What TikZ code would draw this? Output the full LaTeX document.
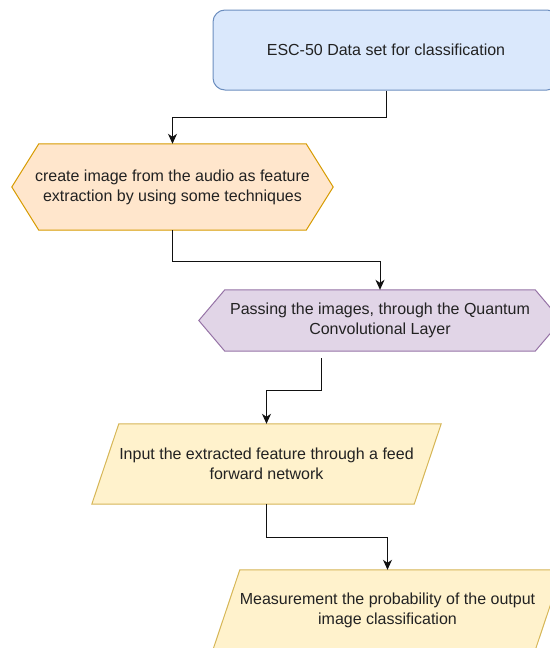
\documentclass[tikz,border=0pt]{standalone}
\usepackage{fontspec}
\setmainfont{Liberation Sans}
\usetikzlibrary{arrows.meta,calc}

\definecolor{ink}{HTML}{222222}
\definecolor{wire}{HTML}{111111}
\definecolor{blueFill}{HTML}{DAE8FC}
\definecolor{blueLine}{HTML}{6C8EBF}
\definecolor{peachFill}{HTML}{FFE6CC}
\definecolor{peachLine}{HTML}{D79B00}
\definecolor{lilacFill}{HTML}{E1D5E7}
\definecolor{lilacLine}{HTML}{9673A6}
\definecolor{sandFill}{HTML}{FFF2CC}
\definecolor{sandLine}{HTML}{D6B656}

\pgfdeclarelayer{background}
\pgfsetlayers{background,main}

\tikzset{
  txt/.style={align=center, font=\fontsize{16}{20}\selectfont, text=ink, inner sep=0pt},
  body/.style={txt, shape=rectangle, minimum width=#1},
  blockbox/.style={txt, draw=blueLine, fill=blueFill, line width=1pt,
    rounded corners=12pt, minimum width=346pt, minimum height=80pt},
  outline/.style n args={2}{draw=#2, fill=#1, line width=1pt, line join=miter},
  flow/.style={draw=wire, line width=1pt,
    -{Stealth[length=10pt, width=9pt, inset=3pt]}},
}

\begin{document}
\begin{tikzpicture}[x=1pt, y=-1pt]
\useasboundingbox (0,0) rectangle (549,648);

% process steps
\node[blockbox] (data) at (386,50) {ESC-50 Data set for classification};
\node[body=321pt, minimum height=86pt] (feat) at (172.5,187)
  {create image from the audio as feature\\extraction by using some techniques};
\node[body=362pt, minimum height=61pt] (qcl) at (380,320.5)
  {Passing the images, through the Quantum\\Convolutional Layer};
\node[body=322pt, minimum height=80pt] (ffn) at (266.5,464)
  {Input the extracted feature through a feed\\forward network};
\node[body=322pt, minimum height=80pt] (meas) at (387.5,610)
  {Measurement the probability of the output\\image classification};

% outlines behind the texts
\begin{pgfonlayer}{background}
  \path[outline={peachFill}{peachLine}]
    (feat.west) -- ($(feat.north west)+(27,0)$) -- ($(feat.north east)+(-27,0)$)
    -- (feat.east) -- ($(feat.south east)+(-27,0)$) -- ($(feat.south west)+(27,0)$)
    -- cycle;
  \path[outline={lilacFill}{lilacLine}]
    (qcl.west) -- ($(qcl.north west)+(26,0)$) -- ($(qcl.north east)+(-26,0)$)
    -- (qcl.east) -- ($(qcl.south east)+(-26,0)$) -- ($(qcl.south west)+(26,0)$)
    -- cycle;
  \path[outline={sandFill}{sandLine}]
    ($(ffn.north west)+(13.5,0)$) -- ($(ffn.north east)+(13.5,0)$)
    -- ($(ffn.south east)+(-13.5,0)$) -- ($(ffn.south west)+(-13.5,0)$) -- cycle;
  \path[outline={sandFill}{sandLine}]
    ($(meas.north west)+(13.5,0)$) -- ($(meas.north east)+(13.5,0)$)
    -- ($(meas.south east)+(-13.5,0)$) -- ($(meas.south west)+(-13.5,0)$) -- cycle;
\end{pgfonlayer}

% connectors
\coordinate (qout) at (321,358);
\draw[flow] (data.south) -- ++(0,27) -| (feat.north);
\draw[flow] (feat.south) -- ++(0,31) -| (qcl.north);
\draw[flow] (qout) -- ++(0,32) -| (ffn.north);
\draw[flow] (ffn.south) -- ++(0,33) -| (meas.north);
\end{tikzpicture}
\end{document}
